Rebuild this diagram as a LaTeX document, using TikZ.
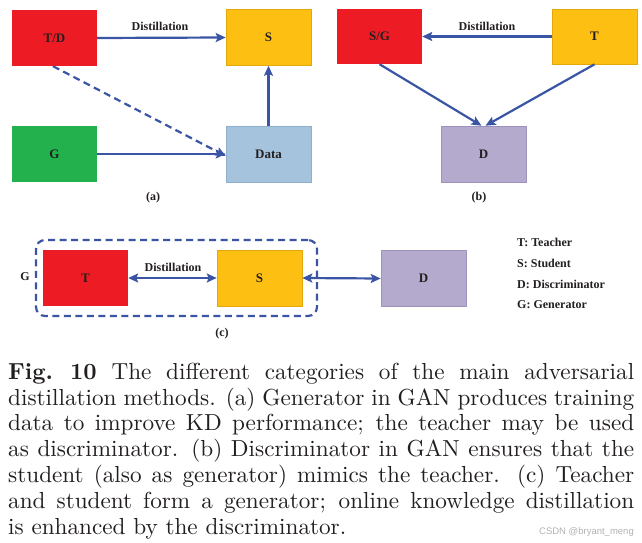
\documentclass[tikz,border=0pt]{standalone}
\usepackage{graphicx}
\usepackage{fontspec}
\newfontfamily\diafont{Liberation Serif}
\newfontfamily\wmfont{Liberation Sans}
\usetikzlibrary{arrows.meta}
\definecolor{cred}{HTML}{ED1C24}
\definecolor{cyel}{HTML}{FCBF12}
\definecolor{cyelb}{HTML}{E3A90C}
\definecolor{cgreen}{HTML}{22B14C}
\definecolor{cblue}{HTML}{A6C3DE}
\definecolor{cblueb}{HTML}{8FAFCF}
\definecolor{clav}{HTML}{B4AACD}
\definecolor{clavb}{HTML}{9C92BC}
\definecolor{carrow}{HTML}{3B55A5}
\definecolor{ctext}{HTML}{231F20}
\begin{document}
\begin{tikzpicture}[x=1pt,y=-1pt,
  box/.style={minimum width=85pt,minimum height=56pt,inner sep=0pt,
    font=\diafont\bfseries\fontsize{13}{15}\selectfont,text=ctext},
  lbl/.style={font=\diafont\bfseries\fontsize{12}{14}\selectfont,text=ctext,inner sep=0pt},
  arr/.style={draw=carrow,line width=2.2pt,-{Stealth[length=10pt,width=9pt,inset=2pt]}},
  darr/.style={draw=carrow,line width=2.2pt,{Stealth[length=10pt,width=9pt,inset=2pt]}-{Stealth[length=10pt,width=9pt,inset=2pt]}},
  dashline/.style={dash pattern=on 7pt off 4.5pt}]
\useasboundingbox[fill=white] (0,0) rectangle (642,543);

% ---------- (a)
\node[box,fill=cred] (TD) at (54.5,38) {T/D};
\node[box,fill=cyel,draw=cyelb,line width=0.6pt] (Sa) at (268.5,37.5) {S};
\node[box,fill=cgreen] (G) at (54.5,154) {G};
\node[box,fill=cblue,draw=cblueb,line width=0.6pt] (Data) at (268.5,154) {Data};
\draw[arr] (TD.east) -- (Sa.west);
\node[lbl] (dista) at (160,26) {Distillation};
\draw[arr,dashline] ([xshift=-1.5pt]TD.south) -- ([yshift=-2pt]Data.west);
\draw[arr] (G.east) -- (Data.west);
\draw[arr] (Data.north) -- (Sa.south);
\node[lbl] (capa) at (153,198) {(a)};

% ---------- (b)
\node[box,fill=cred,minimum height=55pt] (SG) at (379.5,36.5) {S/G};
\node[box,fill=cyel,draw=cyelb,line width=0.6pt,minimum height=55pt] (Tb) at (594.5,36.5) {T};
\node[box,fill=clav,draw=clavb,line width=0.6pt] (Db) at (483.5,154) {D};
\draw[arr] (Tb.west) -- (SG.east);
\node[lbl] (distb) at (487,26) {Distillation};
\draw[arr] (SG.south) -- ([xshift=-2pt]Db.north);
\draw[arr] (Tb.south) -- ([xshift=2pt]Db.north);
\node[lbl] (capb) at (479,198) {(b)};

% ---------- (c)
\node[draw=carrow,line width=2.2pt,dashline,rounded corners=9pt,minimum width=281pt,minimum height=76pt,inner sep=0pt] (gbox) at (176.5,278) {};
\node[lbl] (glab) at (25,277) {G};
\node[box,fill=cred] (Tc) at (85.5,278) {T};
\node[box,fill=cyel,draw=cyelb,line width=0.6pt] (Sc) at (259.5,278) {S};
\node[box,fill=clav,draw=clavb,line width=0.6pt] (Dc) at (423.5,278.5) {D};
\draw[darr] (Tc.east) -- (Sc.west);
\node[lbl] (distc) at (173,267) {Distillation};
\draw[darr] (Sc.east) -- (Dc.west);
\node[lbl] (capc) at (222,334) {(c)};

% legend
\node[lbl,anchor=west] (l1) at (517,242) {T: Teacher};
\node[lbl,anchor=west] (l2) at (517,263) {S: Student};
\node[lbl,anchor=west] (l3) at (517,284) {D: Discriminator};
\node[lbl,anchor=west] (l4) at (517,305) {G: Generator};

% caption
\node[anchor=north west,inner sep=0pt,text=ctext] (cap) at (8,361) {\scalebox{2.32}{\parbox[t]{269.83pt}{\fontsize{10}{11.12}\selectfont
\strut\textbf{Fig.\ 10} The different categories of the main adversarial\linebreak
distillation methods. (a) Generator in GAN produces training\linebreak
data to improve KD performance; the teacher may be used\linebreak
as discriminator. (b) Discriminator in GAN ensures that the\linebreak
student (also as generator) mimics the teacher. (c) Teacher\linebreak
and student form a generator; online knowledge distillation\linebreak
is enhanced by the discriminator.}}};

\node[anchor=east,inner sep=0pt,font=\wmfont\fontsize{9.5}{11}\selectfont,text=black!30] (wm) at (634,532) {CSDN @bryant\_meng};
\end{tikzpicture}
\end{document}
